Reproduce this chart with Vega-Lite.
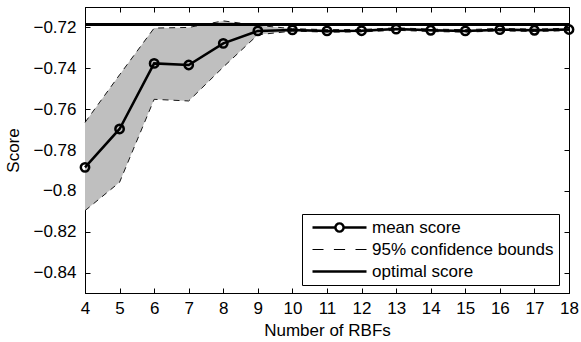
{
  "$schema": "https://vega.github.io/schema/vega-lite/v6.json",
  "autosize": "none",
  "width": 484,
  "height": 286,
  "padding": {"left": 85, "top": 7, "right": 12, "bottom": 49},
  "background": "white",
  "config": {
    "font": "Liberation Sans",
    "view": {"stroke": "black", "strokeWidth": 1},
    "axis": {
      "grid": false,
      "domainColor": "black",
      "tickColor": "black",
      "labelColor": "black",
      "titleColor": "black",
      "labelFont": "Liberation Sans",
      "titleFont": "Liberation Sans",
      "labelFontSize": 17,
      "titleFontSize": 17,
      "titleFontWeight": "normal",
      "tickSize": -5,
      "tickWidth": 1
    },
    "legend": {
      "labelFont": "Liberation Sans",
      "labelFontSize": 17,
      "labelColor": "black",
      "labelLimit": 0,
      "orient": "none",
      "legendX": 217,
      "legendY": 207,
      "strokeColor": "black",
      "fillColor": "white",
      "padding": 5,
      "rowPadding": 4,
      "symbolOffset": 24,
      "labelOffset": 24,
      "symbolSize": 256,
      "symbolOpacity": 1,
      "symbolFillColor": "black",
      "symbolStrokeColor": "transparent",
      "symbolStrokeWidth": 0
    }
  },
  "data": {
    "values": [
      {"x": 4, "mean": -0.7885, "lo": -0.8097, "hi": -0.7665},
      {"x": 5, "mean": -0.7697, "lo": -0.7958, "hi": -0.7432},
      {"x": 6, "mean": -0.7376, "lo": -0.7552, "hi": -0.7203},
      {"x": 7, "mean": -0.7384, "lo": -0.7560, "hi": -0.7200},
      {"x": 8, "mean": -0.7278, "lo": -0.7394, "hi": -0.7168},
      {"x": 9, "mean": -0.7217, "lo": -0.7236, "hi": -0.7190},
      {"x": 10, "mean": -0.7212, "lo": -0.7218, "hi": -0.7206},
      {"x": 11, "mean": -0.7217, "lo": -0.7223, "hi": -0.7211},
      {"x": 12, "mean": -0.7216, "lo": -0.7222, "hi": -0.7210},
      {"x": 13, "mean": -0.7208, "lo": -0.7214, "hi": -0.7202},
      {"x": 14, "mean": -0.7214, "lo": -0.7220, "hi": -0.7208},
      {"x": 15, "mean": -0.7217, "lo": -0.7223, "hi": -0.7211},
      {"x": 16, "mean": -0.7211, "lo": -0.7217, "hi": -0.7205},
      {"x": 17, "mean": -0.7214, "lo": -0.7220, "hi": -0.7208},
      {"x": 18, "mean": -0.7210, "lo": -0.7216, "hi": -0.7204}
    ]
  },
  "resolve": {"axis": {"x": "independent", "y": "independent"}},
  "layer": [
    {
      "mark": {"type": "area", "color": "#bfbfbf", "opacity": 1},
      "encoding": {
        "x": {
          "field": "x", "type": "quantitative",
          "scale": {"domain": [4, 18], "nice": false, "zero": false},
          "axis": {"orient": "bottom", "title": "Number of RBFs", "values": [4,5,6,7,8,9,10,11,12,13,14,15,16,17,18], "labelPadding": 12, "titlePadding": 6, "labelFlush": false}
        },
        "y": {
          "field": "lo", "type": "quantitative",
          "scale": {"domain": [-0.85, -0.71], "nice": false, "zero": false},
          "axis": {"orient": "left", "title": "Score", "values": [-0.84,-0.82,-0.8,-0.78,-0.76,-0.74,-0.72], "format": ".2~f", "labelPadding": 14, "titlePadding": 10}
        },
        "y2": {"field": "hi"}
      }
    },
    {
      "mark": {"type": "line", "color": "black", "strokeWidth": 0.9, "strokeDash": [6, 5]},
      "encoding": {
        "x": {"field": "x", "type": "quantitative", "axis": {"orient": "top", "labels": false, "title": null, "values": [4,5,6,7,8,9,10,11,12,13,14,15,16,17,18]}},
        "y": {"field": "lo", "type": "quantitative", "axis": {"orient": "right", "labels": false, "title": null, "values": [-0.84,-0.82,-0.8,-0.78,-0.76,-0.74,-0.72]}}
      }
    },
    {
      "mark": {"type": "line", "color": "black", "strokeWidth": 0.9, "strokeDash": [6, 5]},
      "encoding": {
        "x": {"field": "x", "type": "quantitative", "axis": null},
        "y": {"field": "hi", "type": "quantitative", "axis": null}
      }
    },
    {
      "mark": {"type": "rule", "color": "black", "strokeWidth": 2.5},
      "encoding": {
        "y": {"datum": -0.7185, "type": "quantitative", "axis": null}
      }
    },
    {
      "mark": {"type": "line", "color": "black", "strokeWidth": 2.5},
      "encoding": {
        "x": {"field": "x", "type": "quantitative", "axis": null},
        "y": {"field": "mean", "type": "quantitative", "axis": null}
      }
    },
    {
      "mark": {"type": "point", "color": "black", "filled": false, "size": 70, "strokeWidth": 2.5, "opacity": 1},
      "encoding": {
        "x": {"field": "x", "type": "quantitative", "axis": null},
        "y": {"field": "mean", "type": "quantitative", "axis": null}
      }
    },
    {
      "mark": {"type": "point", "color": "black", "filled": true, "opacity": 0},
      "encoding": {
        "x": {"field": "x", "type": "quantitative", "axis": null},
        "y": {"field": "mean", "type": "quantitative", "axis": null},
        "shape": {
          "datum": "mean score", "type": "nominal",
          "scale": {
            "domain": ["mean score", "95% confidence bounds", "optimal score"],
            "range": [
              "M-3.375,-0.16H-0.62V0.16H-3.375ZM0.62,-0.16H3.375V0.16H0.62ZM0.67,0L0.619,0.257L0.474,0.474L0.257,0.619L0,0.67L-0.257,0.619L-0.474,0.474L-0.619,0.257L-0.67,0L-0.619,-0.257L-0.474,-0.474L-0.257,-0.619L0,-0.67L0.257,-0.619L0.474,-0.474L0.619,-0.257ZM0.36,0L0.333,-0.138L0.255,-0.255L0.138,-0.333L0,-0.36L-0.138,-0.333L-0.255,-0.255L-0.333,-0.138L-0.36,0L-0.333,0.138L-0.255,0.255L-0.138,0.333L0,0.36L0.138,0.333L0.255,0.255L0.333,0.138Z",
              "M-3.375,-0.06H-2V0.06H-3.375ZM-0.7,-0.06H0.7V0.06H-0.7ZM2,-0.06H3.375V0.06H2Z",
              "M-3.375,-0.16H3.375V0.16H-3.375Z"
            ]
          },
          "legend": {"title": null}
        }
      }
    }
  ]
}
